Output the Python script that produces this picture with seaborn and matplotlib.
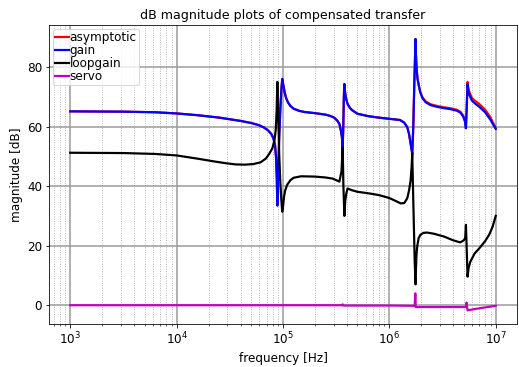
import numpy as np
import pandas as pd
import matplotlib
matplotlib.use("Agg")
import matplotlib.pyplot as plt
import seaborn as sns

# Frequency points given as decade exponents (log10 of Hz)
gain_logf = [3.0, 3.5, 3.8, 4.0, 4.2, 4.4, 4.6, 4.7, 4.77, 4.82, 4.86, 4.89,
             4.91, 4.925, 4.935, 4.942, 4.947, 4.955, 4.965, 4.975, 4.985, 4.993,
             5.0, 5.008, 5.016, 5.03, 5.047, 5.07, 5.1, 5.15, 5.2, 5.3, 5.4,
             5.45, 5.48, 5.51, 5.53, 5.545, 5.554, 5.561, 5.567, 5.572, 5.577,
             5.582, 5.59, 5.607, 5.63, 5.65, 5.7, 5.8, 5.9, 6.0, 6.1, 6.14,
             6.168, 6.185, 6.2, 6.21, 6.215, 6.225, 6.235, 6.246, 6.25, 6.257,
             6.265, 6.277, 6.29, 6.31, 6.34, 6.386, 6.45, 6.511, 6.58, 6.636,
             6.67, 6.695, 6.71, 6.72, 6.727, 6.735, 6.74, 6.75, 6.776, 6.81,
             6.85, 6.9, 6.95, 7.0]
gain_db = [65.1, 65.0, 64.8, 64.4, 63.8, 63.0, 61.9, 61.2, 60.5, 59.7, 58.7, 57.5,
           56.0, 53.8, 49.5, 42.0, 33.5, 45.0, 57.0, 66.0, 72.5, 76.0,
           74.5, 73.0, 71.4, 69.5, 68.1, 66.9, 66.0, 65.3, 64.9, 64.5, 64.0,
           63.5, 63.0, 62.0, 60.9, 58.5, 56.4, 53.0, 60.0, 70.0, 74.3,
           72.0, 69.8, 67.6, 66.2, 65.5, 64.3, 63.5, 63.0, 62.6, 62.2, 61.3,
           59.8, 57.5, 54.2, 52.0, 50.9, 60.0, 75.0, 89.4, 84.0, 79.0,
           76.0, 73.7, 71.5, 69.6, 68.2, 67.2, 66.6, 66.2, 65.8, 65.3,
           64.6, 63.3, 61.8, 59.4, 66.0, 74.2, 72.5, 70.8, 68.7, 67.6,
           66.5, 64.8, 62.3, 59.2]

asym_logf = gain_logf
asym_db = [65.1, 65.0, 64.8, 64.4, 63.8, 63.0, 61.9, 61.2, 60.5, 59.7, 58.7, 57.5,
           56.0, 53.8, 49.5, 42.0, 33.5, 45.0, 57.0, 66.0, 72.5, 76.0,
           74.5, 73.0, 71.4, 69.5, 68.1, 66.9, 66.0, 65.3, 64.9, 64.5, 64.0,
           63.5, 63.0, 62.0, 60.9, 58.5, 56.4, 53.0, 60.0, 70.0, 74.3,
           72.0, 69.8, 67.6, 66.2, 65.5, 64.3, 63.5, 63.0, 62.6, 62.2, 61.3,
           59.8, 57.5, 54.2, 52.0, 50.9, 60.0, 75.0, 89.4, 84.0, 79.0,
           76.0, 73.8, 71.7, 69.9, 68.5, 67.5, 66.9, 66.5, 66.1, 65.6,
           64.9, 63.6, 62.1, 59.7, 67.0, 75.0, 73.5, 71.8, 69.6, 68.5,
           67.4, 65.7, 63.1, 59.5]

loop_logf = [3.0, 3.5, 3.8, 4.0, 4.2, 4.35, 4.46, 4.55, 4.64, 4.72, 4.79, 4.84,
             4.87, 4.9, 4.92, 4.932, 4.94, 4.947, 4.955, 4.965, 4.975, 4.985,
             4.993, 5.0, 5.01, 5.02, 5.04, 5.07, 5.1, 5.17, 5.3, 5.4, 5.47,
             5.5, 5.53, 5.55, 5.561, 5.568, 5.577, 5.585, 5.595, 5.607, 5.65,
             5.7, 5.8, 5.9, 6.0, 6.06, 6.106, 6.14, 6.168, 6.185, 6.2, 6.21,
             6.215, 6.225, 6.238, 6.246, 6.25, 6.255, 6.262, 6.275, 6.293, 6.32,
             6.355, 6.42, 6.511, 6.6, 6.666, 6.7, 6.713, 6.72, 6.735, 6.745,
             6.76, 6.8, 6.85, 6.9, 6.94, 6.97, 7.0]
loop_db = [51.2, 51.1, 50.8, 50.3, 49.2, 48.3, 47.7, 47.3, 47.2, 47.4, 48.0, 49.3,
           50.8, 52.7, 55.5, 59.0, 65.0, 75.0, 64.0, 50.0, 41.0, 35.0,
           31.4, 33.0, 36.5, 38.5, 40.5, 42.0, 42.8, 43.3, 43.2, 42.9, 42.5,
           42.0, 41.5, 45.0, 53.0, 40.0, 30.0, 35.0, 37.5, 39.2, 38.6,
           38.1, 37.6, 37.0, 36.0, 35.0, 34.2, 34.3, 35.9, 38.5, 42.0, 47.0,
           51.0, 35.0, 15.0, 7.0, 12.0, 17.0, 19.8, 22.5, 23.7, 24.3,
           24.4, 24.0, 23.1, 21.8, 21.1, 21.8, 22.6, 27.0, 9.6, 12.5,
           14.5, 17.3, 19.3, 21.5, 23.8, 26.3, 30.0]

servo_logf = [3.0, 4.0, 5.0, 5.555, 5.561, 5.567, 6.0, 6.238, 6.244, 6.248,
              6.5, 6.72, 6.726, 6.735, 6.85, 7.0]
servo_db = [0.0, 0.0, 0.0, 0.0, 0.3, -0.1, -0.1, -0.2, 4.0, -0.6,
            -0.6, -0.6, 0.9, -1.7, -1.0, -0.2]

series = [
    ("asymptotic", asym_logf, asym_db, "red"),
    ("gain", gain_logf, gain_db, "blue"),
    ("loopgain", loop_logf, loop_db, "black"),
    ("servo", servo_logf, servo_db, "m"),
]

frames = []
for name, lf, db, _ in series:
    frames.append(pd.DataFrame({"freq": 10.0 ** np.asarray(lf),
                                "mag": db, "curve": name}))
data = pd.concat(frames, ignore_index=True)

plt.rcParams["font.family"] = ["DejaVu Sans"]
plt.rcParams["font.size"] = 12

fig = plt.figure(figsize=(519 / 72, 367 / 72), dpi=72)
ax = fig.add_axes([49 / 519, 1 - 324 / 367, 468 / 519, 299 / 367])

for name, _, _, color in series:
    sns.lineplot(data=data[data["curve"] == name], x="freq", y="mag",
                 sort=False, estimator=None, color=color, linewidth=2.2,
                 label=name, ax=ax)

ax.set_xscale("log")
ax.set_xlim(10 ** 2.8, 10 ** 7.2)
ax.set_ylim(-6.3, 94.1)
ax.set_yticks([0, 20, 40, 60, 80])

ax.grid(which="major", color="#999999", linestyle="-", linewidth=1.5)
ax.grid(which="minor", axis="x", color="#aaaaaa", linestyle=":", linewidth=0.9)
ax.set_axisbelow(True)

ax.set_title("dB magnitude plots of compensated transfer", fontsize=12.6)
ax.set_xlabel("frequency [Hz]", fontsize=12)
ax.set_ylabel("magnitude [dB]", fontsize=12)

ax.legend(loc="upper left", fontsize=12, handlelength=1.2, handletextpad=0.0,
          labelspacing=0.0, borderpad=0.2, borderaxespad=0.3, framealpha=0.8)

fig.savefig("out.png", dpi=72)
